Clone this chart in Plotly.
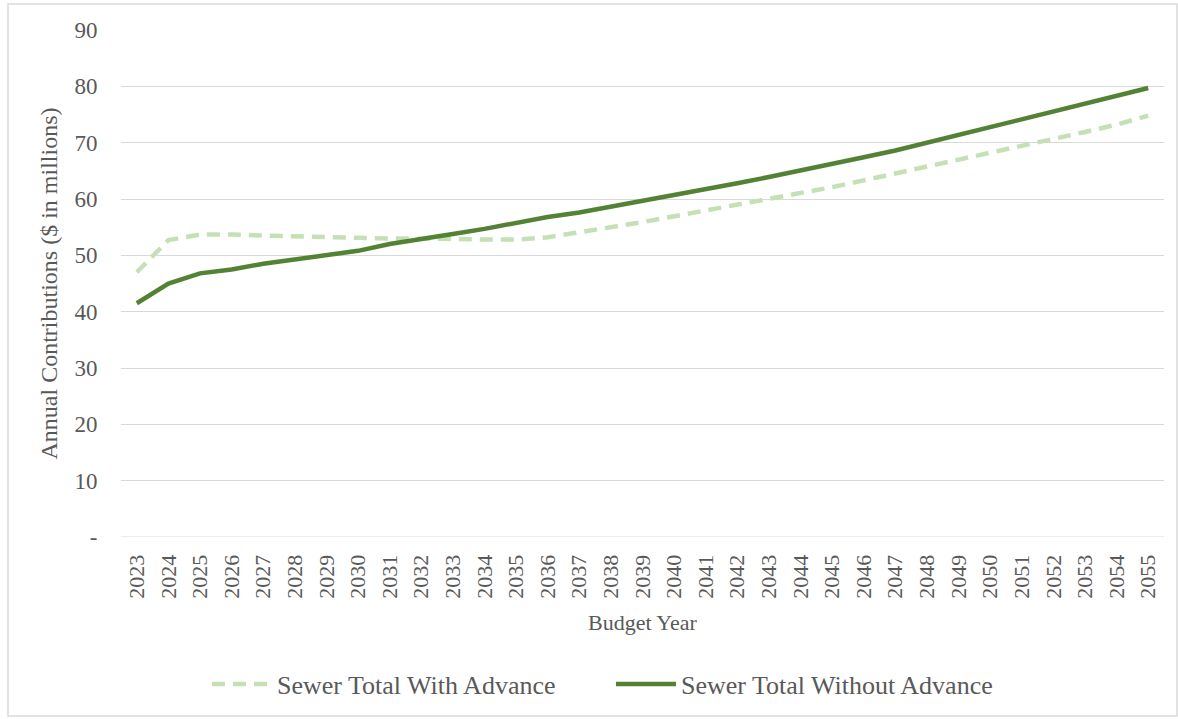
import plotly.graph_objects as go

# Budget years on the category axis
years = [str(y) for y in range(2023, 2056)]

# Annual contributions, $ millions
with_advance = [47.0, 52.7, 53.7, 53.7, 53.5, 53.3, 53.2, 53.1, 53.0, 53.0, 52.9,
                52.8, 52.8, 53.2, 54.2, 55.0, 55.9, 56.9, 57.9, 58.9, 60.0, 61.0,
                62.1, 63.3, 64.5, 65.7, 66.9, 68.1, 69.3, 70.6, 71.9, 73.2, 74.8]
without_advance = [41.5, 45.0, 46.8, 47.5, 48.5, 49.3, 50.0, 50.8, 52.0, 52.8, 53.8,
                   54.7, 55.8, 56.8, 57.6, 58.6, 59.6, 60.6, 61.6, 62.8, 63.9, 65.0,
                   66.2, 67.4, 68.6, 70.0, 71.2, 72.6, 74.0, 75.4, 76.8, 78.2, 79.7]

y_tickvals = [0, 10, 20, 30, 40, 50, 60, 70, 80, 90]
y_ticktext = ["-", "10", "20", "30", "40", "50", "60", "70", "80", "90"]

FONT = "Liberation Serif, Times New Roman, serif"
TEXT = "#595959"
GRID = "#d9d9d9"

fig = go.Figure()
fig.add_trace(go.Scatter(
    x=years, y=with_advance, mode="lines", name="Sewer Total With Advance",
    line=dict(color="#c5e0b4", width=4.5, dash="13px,8px"),
))
fig.add_trace(go.Scatter(
    x=years, y=without_advance, mode="lines", name="Sewer Total Without Advance",
    line=dict(color="#548235", width=4.5),
))

L, R, T, B = 121, 14, 30, 182
W, H = 1178, 719
pw, ph = W - L - R, H - T - B

def px_x(p):
    return (p - L) / pw

def px_y(p):
    return (H - B - p) / ph

fig.update_layout(
    width=W, height=H,
    margin=dict(l=L, r=R, t=T, b=B, autoexpand=False),
    paper_bgcolor="white", plot_bgcolor="white",
    font=dict(family=FONT, color=TEXT, size=22),
    showlegend=True,
    legend=dict(
        orientation="h", x=px_x(207), xanchor="left", y=px_y(684), yanchor="middle",
        font=dict(size=26, color=TEXT), itemwidth=60,
        entrywidth=329, entrywidthmode="pixels",
        bgcolor="rgba(0,0,0,0)",
    ),
    xaxis=dict(
        type="category", range=[-0.5, len(years) - 0.5],
        tickangle=-90, showgrid=False, zeroline=False,
        showline=False, ticks="outside", ticklen=8, tickcolor="rgba(0,0,0,0)",
        tickfont=dict(size=22, color=TEXT, family=FONT),
        title=dict(text="Budget Year", font=dict(size=22, color=TEXT), standoff=16),
        automargin=False,
    ),
    yaxis=dict(
        range=[0, 90], tickvals=y_tickvals, ticktext=y_ticktext,
        showgrid=True, gridcolor=GRID, gridwidth=1, zeroline=False, showline=False,
        ticks="outside", ticklen=18, tickcolor="rgba(0,0,0,0)",
        tickfont=dict(size=23, color=TEXT, family=FONT),
        title=dict(text="Annual Contributions ($ in millions)",
                   font=dict(size=24, color=TEXT), standoff=10),
        automargin=False,
    ),
    shapes=[
        # gridline at zero
        dict(type="line", xref="paper", yref="y", x0=0, x1=1, y0=0, y1=0,
             line=dict(color=GRID, width=1), layer="below"),
        # outer chart frame
        dict(type="rect", xref="paper", yref="paper",
             x0=px_x(8), x1=px_x(1177), y0=px_y(716), y1=px_y(4),
             line=dict(color=GRID, width=1.5), layer="below"),
    ],
)

fig.write_html("out.html")
